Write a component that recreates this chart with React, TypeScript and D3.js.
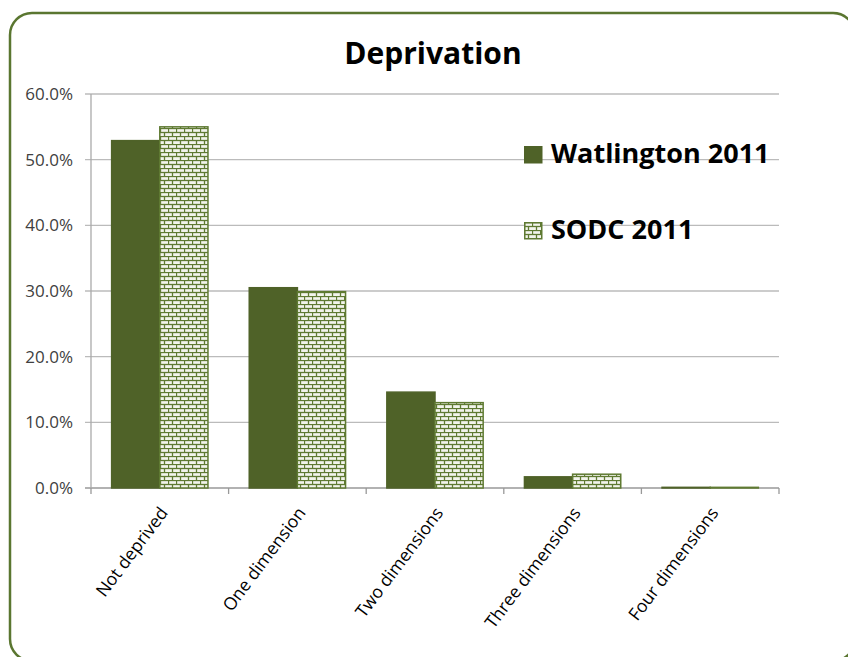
import React from "react";
import * as d3 from "d3";

const categories = ["Not deprived", "One dimension", "Two dimensions", "Three dimensions", "Four dimensions"];
const seriesNames = ["Watlington 2011", "SODC 2011"];
const watlington = [52.9, 30.5, 14.6, 1.7, 0.1];
const sodc = [55.0, 29.9, 13.0, 2.1, 0.1];
const yTicks = [0, 10, 20, 30, 40, 50, 60];

const W = 848, H = 657;
const left = 91, right = 779, top = 94, bottom = 488;
const green = "#4f6228";

export default function App() {
  const x = d3.scaleBand<string>().domain(categories).range([left, right]).paddingInner(0.3).paddingOuter(0.15);
  const x1 = d3.scaleBand<string>().domain(seriesNames).range([0, x.bandwidth()]);
  const y = d3.scaleLinear().domain([0, 60]).range([bottom, top]);
  const step = (right - left) / categories.length;
  const values = [watlington, sodc];

  return (
    <svg width={W} height={H} style={{ position: "absolute", left: 0, top: 0, fontFamily: "'Open Sans', sans-serif" }}>
      <defs>
        <pattern id="brick" width="8" height="8" patternUnits="userSpaceOnUse">
          <rect width="8" height="8" fill="#f2f4ec" />
          <line x1="0" y1="0.5" x2="8" y2="0.5" stroke="#5f7a32" strokeWidth="1.3" />
          <line x1="0" y1="4.5" x2="8" y2="4.5" stroke="#5f7a32" strokeWidth="1.3" />
          <line x1="0.5" y1="0" x2="0.5" y2="4" stroke="#5f7a32" strokeWidth="1.3" />
          <line x1="4.5" y1="4" x2="4.5" y2="8" stroke="#5f7a32" strokeWidth="1.3" />
        </pattern>
      </defs>
      <rect x={0} y={0} width={W} height={H} fill="#fff" />
      <rect x={10} y={13} width={845} height={648} rx={22} ry={22} fill="#fff" stroke="#5a7630" strokeWidth={2.5} />
      <text x={433} y={64} textAnchor="middle" fontSize={30} fontWeight="bold" fill="#000">Deprivation</text>
      {yTicks.map((t) => (
        <g key={t}>
          <line x1={left - 6} x2={right} y1={y(t)} y2={y(t)} stroke={t === 0 ? "#999" : "#bbb"} strokeWidth={1.3} />
          <text x={73} y={y(t) + 6} textAnchor="end" fontSize={17} fill="#404040">{t.toFixed(1)}%</text>
        </g>
      ))}
      <line x1={left} x2={left} y1={top} y2={bottom} stroke="#aaa" strokeWidth={1.3} />
      {d3.range(categories.length + 1).map((i) => (
        <line key={i} x1={left + i * step} x2={left + i * step} y1={bottom} y2={bottom + 6} stroke="#999" strokeWidth={1.3} />
      ))}
      {categories.map((c, i) => (
        <g key={c}>
          {seriesNames.map((s, j) => {
            const v = values[j][i];
            const bx = (x(c) as number) + (x1(s) as number);
            return (
              <rect key={s} x={bx} y={y(v)} width={x1.bandwidth()} height={Math.max(bottom - y(v), 0.5)}
                fill={j === 0 ? green : "url(#brick)"} stroke={j === 0 ? green : "#5f7a32"} strokeWidth={1.5} />
            );
          })}
          <text transform={`translate(${(x(c) as number) + x.bandwidth() / 2 + 9},${bottom + 25}) rotate(-53)`}
            textAnchor="end" fontSize={17.5} fill="#000">{c}</text>
        </g>
      ))}
      {seriesNames.map((s, j) => (
        <g key={s} transform={`translate(524,${146 + j * 76})`}>
          <rect x={0.75} y={0.75} width={17} height={16} fill={j === 0 ? green : "url(#brick)"} stroke={j === 0 ? green : "#5f7a32"} strokeWidth={1.5} />
          <text x={27} y={17} fontSize={27} fontWeight="bold" fill="#000">{s}</text>
        </g>
      ))}
    </svg>
  );
}
